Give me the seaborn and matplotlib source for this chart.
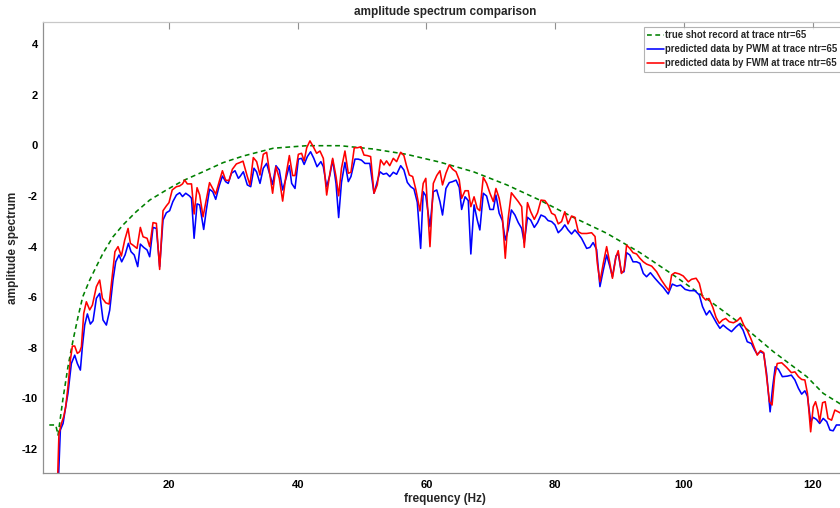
import numpy as np
import pandas as pd
import matplotlib
matplotlib.use("Agg")
import matplotlib.pyplot as plt
import seaborn as sns

# true shot record (green dashed)
true_freq = [1.4, 2.4, 2.76, 3.5, 4.3, 5.1, 5.87, 6.6, 7.68, 8.7, 9.75, 11.3, 12.86, 14.9, 17.0,
             19.6, 22.2, 25.3, 28.4, 31.5, 36.2, 41.4, 46.6, 51.7, 56.9, 62.1, 67.3, 72.5, 77.6,
             82.8, 88.0, 93.2, 98.35, 103.5, 108.7, 113.9, 119.1, 121.65, 124.2, 125.3]
true_amp = [-11.05, -11.05, -11.45, -10.06, -8.75, -7.69, -6.77, -5.98, -5.32, -4.79, -4.26, -3.61,
            -3.14, -2.62, -2.16, -1.76, -1.39, -1.04, -0.68, -0.42, -0.11, -0.01, -0.01, -0.14,
            -0.35, -0.66, -1.04, -1.56, -2.16, -2.84, -3.47, -4.24, -5.12, -6.05, -7.03, -8.15,
            -9.14, -9.8, -10.2, -10.35]

# predicted by PWM (blue)
pwm_freq = [2.7, 3.12, 3.54, 3.95, 4.3, 4.83, 5.35, 5.76, 6.23, 6.54, 6.9, 7.32, 7.78, 8.2, 8.72,
            9.23, 9.75, 10.27, 10.79, 11.3, 11.72, 12.24, 12.65, 13.17, 13.69, 14.1, 14.6, 15.14,
            15.55, 16.07, 16.59, 17.0, 17.52, 18.04, 18.55, 19.07, 19.59, 20.1, 20.6, 21.15, 21.66,
            22.1, 22.6, 23.2, 23.5, 23.9, 24.36, 24.77, 25.39, 25.8, 26.3, 26.8, 27.26, 27.8, 28.3,
            28.8, 29.2, 29.7, 30.26, 30.78,
            31.03, 31.55, 32.17, 32.7, 33.2, 33.6, 34.14, 34.65, 35.17, 35.69, 36.1, 36.62, 37.14,
            37.66, 38.18, 38.7, 39.06, 39.58, 40.1, 40.6, 41.0, 41.5, 42.0, 42.5, 43.0, 43.6, 43.98,
            44.5, 45.0, 45.43, 45.95, 46.36, 46.8, 47.34, 47.86, 48.27, 48.9, 49.4, 49.9, 50.45,
            51.2, 51.85, 52.36, 52.78, 53.3, 53.8, 54.3, 54.85, 55.37, 56.0, 56.5, 57.03, 57.55,
            58.06, 58.58, 59.1, 59.5, 59.9, 60.55, 61.07, 61.6,
            62.1, 62.5, 63.03, 63.55, 64.07, 64.6, 65.1, 65.47, 66.0, 66.5, 66.9, 67.4, 67.9, 68.3,
            68.83, 69.35, 69.87, 70.4, 70.8, 71.3, 71.8, 72.25, 72.7, 73.2, 73.75, 74.27, 74.8,
            75.2, 75.7, 76.2, 76.76, 77.27, 77.8, 78.4, 78.9, 79.45, 79.97, 80.48, 81.0, 81.5,
            82.0, 82.55, 83.07, 83.6, 84.1, 84.9, 85.4, 85.9, 86.44, 86.96, 87.48, 88.0, 88.5,
            88.9, 89.45, 89.8, 90.3, 90.7, 91.1, 91.6, 92.1, 92.65,
            93.17, 93.7, 94.2, 94.8, 95.5, 96.2, 96.8, 97.57, 98.2, 98.9, 99.5, 100.2, 100.9,
            101.7, 102.4, 102.9, 103.5, 104.0, 104.6, 105.1, 105.6, 106.1, 106.7, 107.4, 108.1,
            108.6, 109.2, 109.85, 110.5, 111.0, 111.4, 111.9, 112.4, 112.85, 113.4, 113.8, 114.2,
            114.7, 115.3, 116.06, 116.7, 117.25, 117.8, 118.3, 118.8, 119.2, 119.7, 120.1, 120.6,
            121.1, 121.65, 122.2, 122.7, 123.2, 123.7, 124.2, 125.3]
pwm_amp = [-14.0, -11.25, -10.99, -10.33, -9.8, -8.62, -8.29, -8.62, -8.88, -7.96, -7.1, -6.66,
           -7.06, -6.93, -6.04, -5.85, -6.9, -7.1, -6.51, -5.32, -4.6, -4.33, -4.6, -4.33, -3.87,
           -4.2, -4.33, -4.79, -3.9, -4.03, -4.13, -4.4, -3.24, -3.28, -4.79, -2.95, -2.66, -2.58,
           -2.22, -1.96, -1.87, -2.02, -1.89, -2.0, -2.09, -3.67, -2.31, -2.35, -3.32, -2.55,
           -1.73, -1.83, -2.13, -1.6, -1.21, -1.43, -1.5, -1.1, -1.0, -1.3,
           -1.23, -1.04, -1.56, -1.63, -0.9, -1.04, -1.5, -0.9, -0.71, -1.17, -1.54, -0.8, -0.97,
           -1.76, -1.3, -0.8, -1.5, -1.7, -0.54, -0.51, -0.75, -0.44, -0.25, -0.51, -0.84, -0.64,
           -0.84, -1.63, -1.17, -0.57, -1.5, -2.85, -1.46, -0.67, -1.43, -1.23, -0.54, -0.54,
           -0.58, -0.71, -0.71, -1.89, -1.43, -1.04, -1.14, -1.1, -1.23, -1.06, -1.14, -0.8,
           -0.97, -1.46, -1.63, -1.72, -2.25, -4.07, -1.83, -1.99, -3.21, -1.83, -1.76,
           -2.22, -2.75, -1.7, -1.47, -1.43, -1.37, -1.66, -2.53, -2.03, -2.18, -4.29, -2.35,
           -2.95, -3.34, -1.89, -2.0, -2.53, -2.53, -1.96, -2.68, -2.97, -3.74, -3.34, -2.55,
           -2.75, -3.05, -3.28, -3.84, -2.84, -2.95, -3.24, -3.05, -2.75, -2.82, -2.97, -3.01,
           -3.14, -3.45, -3.32, -3.14, -3.34, -3.5, -3.34, -3.5, -3.67, -4.07, -4.03, -3.84,
           -4.11, -5.58, -4.93, -4.33, -4.79, -5.19, -4.37, -4.27, -5.03, -4.99, -4.24, -4.33,
           -4.6, -4.6,
           -4.66, -5.06, -5.19, -5.03, -5.25, -5.45, -5.61, -5.87, -5.48, -5.56, -5.52, -5.69,
           -5.74, -5.74, -5.91, -6.37, -6.7, -6.53, -6.8, -7.03, -7.23, -7.1, -7.23, -7.36,
           -7.17, -7.06, -7.3, -7.76, -7.83, -8.09, -8.25, -8.15, -8.22, -9.01, -10.53, -9.54,
           -8.75, -8.85, -9.14, -9.12, -9.08, -9.27, -9.6, -9.83, -9.7, -9.91, -10.92, -10.75,
           -10.83, -10.99, -10.79, -10.92, -11.25, -11.28, -11.05, -11.05, -11.1]

# predicted by FWM (red)
fwm_freq = [2.6, 2.9, 3.28, 3.64, 3.95, 4.3, 4.68, 4.99, 5.35, 5.76, 6.13, 6.39, 6.75, 7.16, 7.68,
            8.1, 8.72, 9.23, 9.65, 10.17, 10.7, 11.05, 11.6, 12.08, 12.6, 13.12, 13.64, 14.0, 14.4,
            15.03, 15.55, 15.97, 16.6, 17.0, 17.52, 18.04, 18.55, 19.07, 19.59, 20.0, 20.5, 21.15,
            21.66, 22.1, 22.44, 22.85, 23.5, 23.9, 24.36, 24.77, 25.29, 25.8, 26.3, 26.8, 27.26,
            27.8, 28.3, 28.8, 29.33, 29.85, 30.47, 30.98,
            31.5, 32.17, 32.58, 33.1, 33.62, 34.14, 34.65, 35.17, 35.69, 36.1, 36.62, 37.14, 37.66,
            38.18, 38.7, 39.21, 39.58, 40.1, 40.6, 41.0, 41.4, 41.9, 42.42, 42.94, 43.46, 43.98,
            44.5, 45.0, 45.43, 45.95, 46.36, 46.8, 47.34, 47.86, 48.27, 48.79, 49.3, 49.83, 50.3,
            50.8, 51.33, 51.85, 52.36, 52.88, 53.4, 53.8, 54.3, 54.85, 55.37, 56.0, 56.5, 56.9,
            57.34, 57.86, 58.37, 59.0, 59.5, 59.9, 60.55, 61.07, 61.6, 62.1,
            62.5, 63.03, 63.55, 64.07, 64.6, 65.1, 65.47, 66.0, 66.5, 66.9, 67.4, 67.9, 68.3,
            68.83, 69.35, 69.87, 70.4, 70.8, 71.3, 71.8, 72.25, 72.7, 73.2, 73.75, 74.27, 74.8,
            75.2, 75.7, 76.2, 76.76, 77.27, 77.8, 78.4, 78.9, 79.45, 79.97, 80.48, 81.0, 81.5,
            82.0, 82.55, 83.07, 83.6, 84.1, 84.9, 85.66, 86.2, 86.55, 86.96, 87.48, 88.0, 88.5,
            88.9, 89.45, 89.8, 90.3, 90.7, 91.1, 91.6, 92.1, 92.65,
            93.17, 93.7, 94.2, 95.0, 95.76, 96.5, 97.2, 97.7, 98.1, 98.6, 99.3, 99.9, 100.7,
            101.2, 101.9, 102.4, 102.9, 103.4, 103.9, 104.5, 105.0, 105.5, 106.0, 106.5, 107.05,
            107.7, 108.3, 108.8, 109.3, 109.85, 110.4, 110.9, 111.4, 111.9, 112.4, 112.85, 113.3,
            113.7, 114.1, 114.5, 115.2, 115.95, 116.7, 117.25, 117.8, 118.3, 118.8, 119.2, 119.7,
            120.1, 120.46, 120.8, 121.1, 121.55, 121.96, 122.4, 122.95, 123.46, 124.0, 124.5, 125.3]
fwm_amp = [-14.0, -11.4, -10.99, -10.72, -10.33, -9.54, -8.48, -7.93, -7.93, -8.22, -8.15, -7.96,
           -6.64, -6.18, -6.5, -6.31, -5.58, -5.32, -6.04, -6.22, -6.27, -5.45, -4.2, -4.0, -4.37,
           -3.74, -3.28, -3.87, -3.94, -4.07, -3.24, -3.61, -3.67, -4.0, -3.05, -3.08, -4.9,
           -2.58, -2.39, -2.26, -1.76, -1.63, -1.6, -1.52, -1.37, -1.52, -1.52, -2.71, -1.67,
           -1.96, -2.82, -2.13, -1.47, -1.7, -1.92, -1.43, -1.0, -1.37, -1.39, -0.94, -0.73, -0.68,
           -0.62, -1.23, -1.56, -0.48, -0.64, -1.17, -0.35, -0.27, -1.17, -1.89, -0.84, -1.3,
           -2.2, -1.17, -0.4, -1.19, -1.19, -0.35, -0.31, -0.61, -0.09, 0.18, -0.05, -0.31,
           -0.22, -0.51, -1.96, -1.1, -0.51, -1.23, -1.99, -0.9, -0.22, -1.1, -1.06, -0.09,
           -0.09, -0.05, -0.38, -0.4, -0.44, -1.89, -1.56, -0.57, -0.77, -0.61, -0.8, -0.51,
           -0.64, -0.27, -0.4, -0.8, -1.17, -1.23, -1.76, -2.59, -1.5, -1.3, -4.0, -1.5, -1.19,
           -1.0,
           -1.56, -1.1, -0.77, -0.94, -1.04, -1.37, -2.09, -1.79, -1.79, -2.42, -2.03, -2.49,
           -2.58, -1.26, -1.5, -1.89, -2.22, -1.7, -2.09, -2.82, -4.46, -2.88, -1.87, -2.05,
           -2.22, -2.42, -4.03, -2.26, -2.62, -2.92, -2.66, -2.16, -2.18, -2.35, -2.68, -2.75,
           -3.1, -3.01, -2.62, -3.1, -2.79, -2.84, -3.41, -3.48, -3.48, -3.45, -3.6, -4.66,
           -5.39, -4.66, -4.0, -4.66, -5.25, -4.4, -4.16, -5.06, -4.93, -3.94, -4.07, -4.24,
           -4.29,
           -4.46, -4.6, -4.69, -4.77, -4.99, -5.32, -5.58, -5.74, -5.12, -5.03, -5.08, -5.16,
           -5.39, -5.29, -5.25, -5.45, -5.98, -6.11, -6.05, -6.4, -6.8, -7.03, -6.9, -6.84,
           -6.97, -7.01, -6.93, -6.8, -7.1, -7.32, -7.63, -7.96, -8.29, -8.11, -8.19, -9.14,
           -10.13, -10.26, -9.14, -8.62, -8.59, -8.77, -8.98, -8.95, -9.14, -9.25, -9.27, -9.8,
           -11.32, -10.33, -10.13, -10.46, -10.92, -10.17, -10.13, -10.79, -10.86, -10.46,
           -10.53, -10.6, -10.7]

labels = ["true shot record at trace ntr=65",
          "predicted data by PWM at trace ntr=65",
          "predicted data by FWM at trace ntr=65"]

sns.set_style("white")
plt.rcParams["font.family"] = ["Liberation Sans", "DejaVu Sans"]
plt.rcParams["font.weight"] = "bold"
plt.rcParams["axes.unicode_minus"] = False

W, H = 840, 508
fig = plt.figure(figsize=(W / 100, H / 100), dpi=100)
# axes: left edge 43px, bottom 473px, top 22px, right edge just past the picture
ax = fig.add_axes([43.3 / W, (H - 473.3) / H, (846.7 - 43.3) / W, (473.3 - 22) / H])

true_df = pd.DataFrame({"freq": true_freq, "amp": true_amp})
pwm_df = pd.DataFrame({"freq": pwm_freq, "amp": pwm_amp})
fwm_df = pd.DataFrame({"freq": fwm_freq, "amp": fwm_amp})

sns.lineplot(data=true_df, x="freq", y="amp", ax=ax, color="#008000", lw=1.15,
             linestyle=(0, (3.0, 2.2)), sort=False, estimator=None, label=labels[0])
sns.lineplot(data=pwm_df, x="freq", y="amp", ax=ax, color="#0000ff", lw=1.15,
             sort=False, estimator=None, label=labels[1])
sns.lineplot(data=fwm_df, x="freq", y="amp", ax=ax, color="#ff0000", lw=1.15,
             sort=False, estimator=None, label=labels[2])

ax.set_xlim(0.47, 125.3)
ax.set_ylim(-12.96, 4.88)
ax.set_xticks([20, 40, 60, 80, 100, 120])
ax.set_yticks([-12, -10, -8, -6, -4, -2, 0, 2, 4])
ax.tick_params(direction="in", length=5, width=0.8, colors="#909090",
               labelcolor="black", labelsize=8, top=True, right=False)
ax.tick_params(axis="x", pad=5)
ax.tick_params(axis="y", pad=4)
for lab in ax.get_xticklabels() + ax.get_yticklabels():
    lab.set_fontweight("bold")
for side in ["left", "bottom"]:
    ax.spines[side].set_color("#909090")
    ax.spines[side].set_linewidth(0.9)
ax.spines["top"].set_color("#c8c8c8")
ax.spines["top"].set_linewidth(0.9)
ax.spines["right"].set_visible(False)

ax.set_xlabel("frequency (Hz)", fontsize=8.5, fontweight="bold", labelpad=2)
ax.set_ylabel("amplitude spectrum", fontsize=8.5, fontweight="bold", labelpad=2)
ax.set_title("amplitude spectrum comparison", fontsize=8.5, fontweight="bold", pad=5)

leg = ax.legend(loc="upper left", bbox_to_anchor=(644 / W, 1 - 27 / H),
                bbox_transform=fig.transFigure, fontsize=6.85, frameon=True, fancybox=False,
                handlelength=1.7, handletextpad=0.15, borderpad=0.35, labelspacing=0.42,
                borderaxespad=0)
leg.get_frame().set_edgecolor("#a0a0a0")
leg.get_frame().set_linewidth(0.8)
for t in leg.get_texts():
    t.set_fontweight("bold")

fig.savefig("out.png", dpi=100)
